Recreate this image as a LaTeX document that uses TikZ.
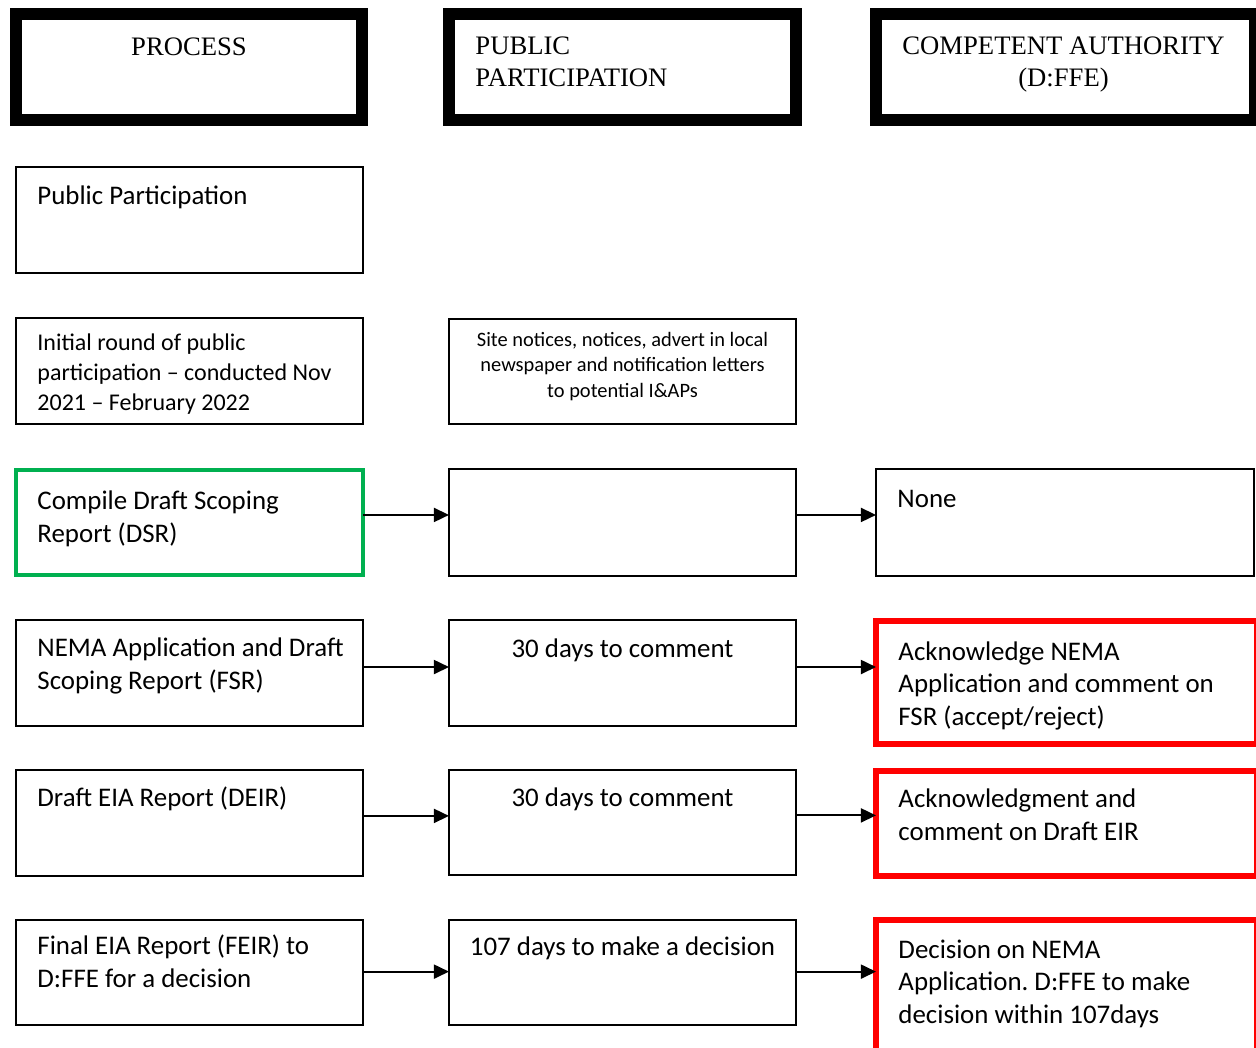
\documentclass[tikz,border=0pt]{standalone}
\usepackage{fontspec}
\setmainfont{Liberation Serif}
\newfontfamily\calibri{Carlito}
\usetikzlibrary{arrows.meta, positioning, fit, calc}
\usepackage{xcolor}
\definecolor{dsrcol}{HTML}{00B050}
\definecolor{cacol}{HTML}{FF0000}
\frenchspacing

\begin{document}
\begin{tikzpicture}[
    x=0.45pt, y=-0.45pt,
    >={Triangle[length=6.8pt, width=6.3pt]},
    head/.style={draw, line width=5.4pt, inner sep=0pt, outer sep=0pt},
    box/.style={draw, line width=0.7pt, inner sep=0pt, outer sep=0pt},
    dsrbox/.style={box, draw=dsrcol, line width=1.8pt},
    cabox/.style={box, draw=cacol, line width=2.7pt},
    htext/.style={font=\fontsize{12}{14}\selectfont, inner sep=0pt},
    btext/.style={font=\calibri\fontsize{12.1}{14.6}\selectfont, inner sep=0pt,
        align=left, anchor=base west},
    ctext/.style={btext, align=center, anchor=base},
    arr/.style={->, line width=0.9pt},
]
\useasboundingbox (0,0) rectangle (1256,1047);

% ── Column headers ──
\node[head, fit={(16,14) (362,120)}]   (hproc) {};
\node[head, fit={(449,14) (796,120)}]  (hpub)  {};
\node[head, fit={(876,14) (1255,120)}] (hauth) {};

\node[htext, anchor=base] at ($(hproc.north)+(0,41)$) {PROCESS};
\node[htext, anchor=base west, align=left] at ($(hpub.north west)+(26,72)$)
    {PUBLIC\\PARTICIPATION};
\node[htext, anchor=base, align=center] at ($(hauth.north)+(-2,72)$)
    {COMPETENT AUTHORITY\\(D:FFE)};

% ── Process column ──
\node[box, fit={(16,167) (363,273)}]    (pp)   {};
\node[box, fit={(16,318) (363,424)}]    (init) {};
\node[dsrbox, fit={(16,470) (363,575)}] (dsr)  {};
\node[box, fit={(16,620) (363,726)}]    (fsr)  {};
\node[box, fit={(16,770) (363,876)}]    (deir) {};
\node[box, fit={(16,920) (363,1025)}]   (feir) {};

\node[btext] at ($(pp.north west)+(21,37)$) {Public Participation};
\node[btext, font=\calibri\fontsize{10.8}{13.3}\selectfont]
    at ($(init.north west)+(21,92)$)
    {Initial round of public\\participation \textendash{} conducted Nov\\2021 \textendash{} February 2022};
\node[btext] at ($(dsr.north west)+(21,72)$) {Compile Draft Scoping\\Report (DSR)};
\node[btext] at ($(fsr.north west)+(21,69)$) {NEMA Application and Draft\\Scoping Report (FSR)};
\node[btext] at ($(deir.north west)+(21,36)$) {Draft EIA Report (DEIR)};
\node[btext] at ($(feir.north west)+(21,67)$) {Final EIA Report (FEIR) to\\D:FFE for a decision};

% ── Public participation column ──
\node[box, fit={(449,319) (796,424)}]  (notice) {};
\node[box, fit={(449,469) (796,576)}]  (dsrpp)  {};
\node[box, fit={(449,620) (796,726)}]  (fsrpp)  {};
\node[box, fit={(449,770) (796,875)}]  (deirpp) {};
\node[box, fit={(449,920) (796,1025)}] (feirpp) {};

\node[ctext, font=\calibri\fontsize{9.2}{11.3}\selectfont]
    at ($(notice.north)+(0,78)$)
    {Site notices, notices, advert in local\\newspaper and notification letters\\to potential I\&APs};
\node[ctext] at ($(fsrpp.north)+(0,37)$)  {30 days to comment};
\node[ctext] at ($(deirpp.north)+(0,36)$) {30 days to comment};
\node[ctext] at ($(feirpp.north)+(0,35)$) {107 days to make a decision};

% ── Competent authority column ──
\node[box, fit={(876,469) (1254,576)}]    (dsrca)  {};
\node[cabox, fit={(876,621) (1257,744)}]  (fsrca)  {};
\node[cabox, fit={(876,771) (1257,876)}]  (deirca) {};
\node[cabox, fit={(876,920) (1257,1070)}] (feirca) {};

\node[btext] at ($(dsrca.north west)+(21,38)$) {None};
\node[btext] at ($(fsrca.north west)+(22,104)$)
    {Acknowledge NEMA\\Application and comment on\\FSR (accept/reject)};
\node[btext] at ($(deirca.north west)+(22,69)$)
    {Acknowledgment and\\comment on Draft EIR};
\node[btext] at ($(feirca.north west)+(22,103)$)
    {Decision on NEMA\\Application. D:FFE to make\\decision within 107days};

% ── Arrows ──
\foreach \a/\b/\s in {dsr/dsrpp/3.4, dsrpp/dsrca/3.4, fsr/fsrpp/2.7, fsrpp/fsrca/2.7,
    deir/deirpp/3.2, deirpp/deirca/3.2, feir/feirpp/0.4, feirpp/feirca/0.4}
    \draw[arr] ([yshift=\s pt]\a.east) -- ([yshift=\s pt]\a.east -| \b.west);

\end{tikzpicture}
\end{document}
